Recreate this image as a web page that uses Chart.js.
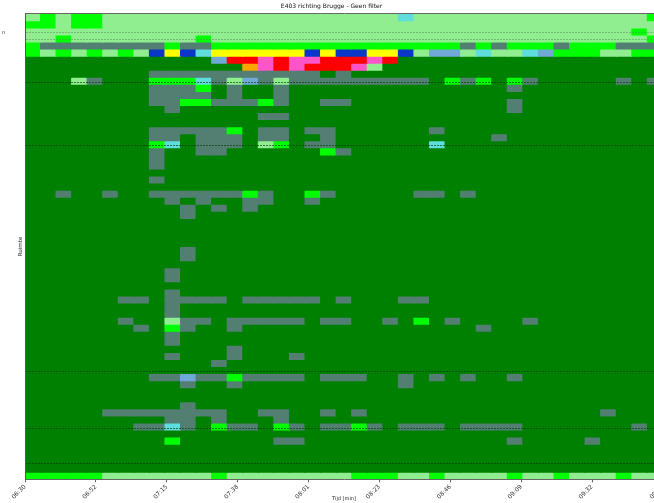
<!DOCTYPE html>
<html><head><meta charset="utf-8">
<script src="https://cdn.jsdelivr.net/npm/chart.js@4/dist/chart.umd.min.js"></script>
<style>
html,body{margin:0;padding:0;background:#fff;overflow:hidden;}
#wrap{position:relative;width:690px;height:503px;}
</style></head><body>
<div id="wrap"><canvas id="c" width="690" height="503"></canvas></div>
<script>
const chartTitle = "E403 richting Brugge - Geen filter";
const xTitle = "Tijd [min]";
const yTitle = "Ruimte";
// time bins (5 minute columns)
const timeBins = ["06:30","06:35","06:40","06:45","06:50","06:55","07:00","07:05","07:10","07:15",
  "07:20","07:25","07:30","07:35","07:40","07:45","07:50","07:55","08:00","08:05",
  "08:10","08:15","08:20","08:25","08:30","08:35","08:40","08:45","08:50","08:55",
  "09:00","09:05","09:10","09:15","09:20","09:25","09:30","09:35","09:40","09:45","09:50"];
const binMinutes = 5;
const xTickLabels = ["06:30","06:52","07:15","07:38","08:01","08:23","08:46","09:09","09:32","09:55"];
// space markers (row units, from top)
const spaceMarkers = [2.64, 3.63, 9.73, 18.72, 50.75, 58.81, 63.77];
// state codes per cell
const palette = {
  d: "#008000", l: "#90ee90", b: "#00ff00", g: "#527f72", y: "#ffff00",
  n: "#0a37c8", c: "#5fdcdc", s: "#70a8d8", r: "#ff0000", p: "#ff55c8", o: "#ffa500"
};
// rows, top to bottom; columns grouped by ten
const rows = [
  "lblbblllll llllllllll llllclllll llllllllll b",
  "bblbblllll llllllllll llllllllll llllllllll l",
  "llllllllll llllllllll llllllllll lllllllllb l",
  "llblllllll lbllllllll llllllllll llllllllll b",
  "bggggggggb ggbbbbbbbb bbbbbbbbgb gbbbgbbbgg g",
  "blblblblny ncyyyyyyny nnyynlsslc llcsbbbllb b",
  "dddddddddd ddsrrprppr rrprdddddd dddddddddd d",
  "dddddddddd ddddoprprr rplddddddd dddddddddd d",
  "ddddddddgg gggggggggd gddddddddd dddddddddd d",
  "dddlgdddbb bcglsglggg ggggggdbgb dbgdddddgd g",
  "ddddddddgg gbdgddgddd dddddddddd dgdddddddd d",
  "ddddddddgg ggdgddgddd dddddddddd dddddddddd d",
  "ddddddddgg bbgggbgddg gddddddddd dgdddddddd d",
  "dddddddddg dddddddddd dddddddddd dgdddddddd d",
  "dddddddddd dddddggddd dddddddddd dddddddddd d",
  "dddddddddd dddddddddd dddddddddd dddddddddd d",
  "ddddddddgg gggbdggdgg ddddddgddd dddddddddd d",
  "ddddddddgg dgggdggddg dddddddddd gddddddddd d",
  "ddddddddbc dgggdlbdgg ddddddcddd dddddddddd d",
  "ddddddddgd dggddddddb gddddddddd dddddddddd d",
  "ddddddddgd dddddddddd dddddddddd dddddddddd d",
  "ddddddddgd dddddddddd dddddddddd dddddddddd d",
  "dddddddddd dddddddddd dddddddddd dddddddddd d",
  "ddddddddgd dddddddddd dddddddddd dddddddddd d",
  "dddddddddd dddddddddd dddddddddd dddddddddd d",
  "ddgddgddgg ggggbgddbg dddddggdgd dddddddddd d",
  "dddddddddg dgddggddgd dddddddddd dddddddddd d",
  "dddddddddd gdgdgddddd dddddddddd dddddddddd d",
  "dddddddddd gddddddddd dddddddddd dddddddddd d",
  "dddddddddd dddddddddd dddddddddd dddddddddd d",
  "dddddddddd dddddddddd dddddddddd dddddddddd d",
  "dddddddddd dddddddddd dddddddddd dddddddddd d",
  "dddddddddd dddddddddd dddddddddd dddddddddd d",
  "dddddddddd gddddddddd dddddddddd dddddddddd d",
  "dddddddddd gddddddddd dddddddddd dddddddddd d",
  "dddddddddd dddddddddd dddddddddd dddddddddd d",
  "dddddddddg dddddddddd dddddddddd dddddddddd d",
  "dddddddddg dddddddddd dddddddddd dddddddddd d",
  "dddddddddd dddddddddd dddddddddd dddddddddd d",
  "dddddddddg dddddddddd dddddddddd dddddddddd d",
  "ddddddggdg gggdgggggd gdddggdddd dddddddddd d",
  "dddddddddg dddddddddd dddddddddd dddddddddd d",
  "dddddddddg dddddddddd dddddddddd dddddddddd d",
  "ddddddgddl ggdgggggdg gddgdbdgdd ddgddddddd d",
  "dddddddgdb gddgdddddd dddddddddg dddddddddd d",
  "dddddddddg dddddddddd dddddddddd dddddddddd d",
  "dddddddddg dddddddddd dddddddddd dddddddddd d",
  "dddddddddd dddgdddddd dddddddddd dddddddddd d",
  "dddddddddg dddgdddgdd dddddddddd dddddddddd d",
  "dddddddddd ddgddddddd dddddddddd dddddddddd d",
  "dddddddddd dddddddddd dddddddddd dddddddddd d",
  "ddddddddgg sggbggggdg ggddgdgdgd dgdddddddd d",
  "dddddddddd gddgdddddd ddddgddddd dddddddddd d",
  "dddddddddd dddddddddd dddddddddd dddddddddd d",
  "dddddddddd dddddddddd dddddddddd dddddddddd d",
  "dddddddddd gddddddddd dddddddddd dddddddddd d",
  "dddddggggg gggddggddg dgdddddddd dddddddgdd d",
  "dddddddddg gdgdddgddd dddddddddd dddddddddd d",
  "dddddddggc gdbggdbgdg gbgdgggdgg ggdddddddg d",
  "dddddddddd dddddddddd dddddddddd dddddddddd d",
  "dddddddddb ddddddggdd dddddddddd dgddddgddd d",
  "dddddddddd dddddddddd dddddddddd dddddddddd d",
  "dddddddddd dddddddddd dddddddddd dddddddddd d",
  "dddddddddd dddddddddd dddddddddd dddddddddd d",
  "dddddddddd dddddddddd dddddddddd dddddddddd d",
  "bbbbblllll llblllllll lbbbllblll lbllblllbl l"
];

function toMin(t){const [h,m]=t.split(":").map(Number);return h*60+m;}
const t0 = toMin(timeBins[0]);
const tEnd = toMin(xTickLabels[xTickLabels.length-1]);
const span = tEnd - t0;
const nRows = rows.length;

const datasets = rows.map((row, r) => {
  const codes = row.replace(/\s+/g, "").split("");
  return {
    data: timeBins.map((t) => ({x: toMin(t) - t0 + binMinutes/2, y: [r, r + 1]})),
    backgroundColor: codes.map(c => palette[c]),
    borderWidth: 0,
    inflateAmount: 0.6,
    barPercentage: 1,
    categoryPercentage: 1,
    grouped: false
  };
});

Chart.defaults.font.family = "'DejaVu Sans', sans-serif";

function noPad(s){ s.paddingLeft = 0; s.paddingRight = 0; s.paddingTop = 0; s.paddingBottom = 0; }

const cornerText = {
  id: "cornerText",
  afterDraw(chart) {
    const ctx = chart.ctx;
    ctx.save();
    ctx.font = "5px 'DejaVu Sans'";
    ctx.fillStyle = "#333";
    ctx.textBaseline = "middle";
    ctx.fillText("n", 2, 33);
    ctx.restore();
  }
};

new Chart(document.getElementById("c"), {
  type: "bar",
  data: { datasets },
  plugins: [cornerText],
  options: {
    responsive: false,
    animation: false,
    layout: { padding: { left: 0, right: 27, top: 0, bottom: 0 } },
    plugins: {
      legend: { display: false },
      tooltip: { enabled: false },
      title: {
        display: true, text: chartTitle, color: "#111",
        font: { size: 6, weight: "normal" },
        padding: { top: 3, bottom: 3.5 }
      }
    },
    scales: {
      x: {
        type: "linear", position: "bottom", min: 0, max: span, offset: false,
        afterBuildTicks: s => { s.ticks = xTickLabels.map((_, i) => ({ value: i * span / (xTickLabels.length - 1) })); },
        afterFit: s => { s.height = 23.7; noPad(s); },
        ticks: {
          autoSkip: false, minRotation: 45, maxRotation: 45, padding: 1,
          color: "#333", font: { size: 6 },
          callback: (v, i) => xTickLabels[i]
        },
        grid: { drawOnChartArea: false, drawTicks: true, tickLength: 3, color: "#666", tickColor: "#666", offset: false },
        border: { display: true, color: "#666", width: 1, z: 2 },
        title: { display: true, text: xTitle, color: "#222", font: { size: 5 }, padding: { top: 0, bottom: 1.5 } }
      },
      xTop: {
        type: "linear", position: "top", min: 0, max: span, offset: false,
        afterFit: s => { s.height = 0; noPad(s); },
        ticks: { display: false },
        grid: { display: false, drawTicks: false },
        border: { display: true, color: "#666", width: 1, z: 2 }
      },
      y: {
        type: "linear", min: 0, max: nRows, reverse: true,
        afterBuildTicks: s => { s.ticks = spaceMarkers.map(v => ({ value: v })); },
        afterFit: s => { s.width = 25; noPad(s); },
        ticks: { display: false },
        grid: {
          z: 1, drawTicks: false, lineWidth: 1,
          color: ctx => (ctx.tick && ctx.tick.value < 6) ? "rgba(90,150,90,0.55)" : "rgba(0,60,0,0.65)"
        },
        border: { display: true, color: "#555", width: 1, dash: [2, 1], z: 2 },
        title: { display: true, text: yTitle, color: "#222", font: { size: 5.5 }, padding: { top: 17.2, bottom: 0 } }
      }
    }
  }
});
</script>
</body></html>
